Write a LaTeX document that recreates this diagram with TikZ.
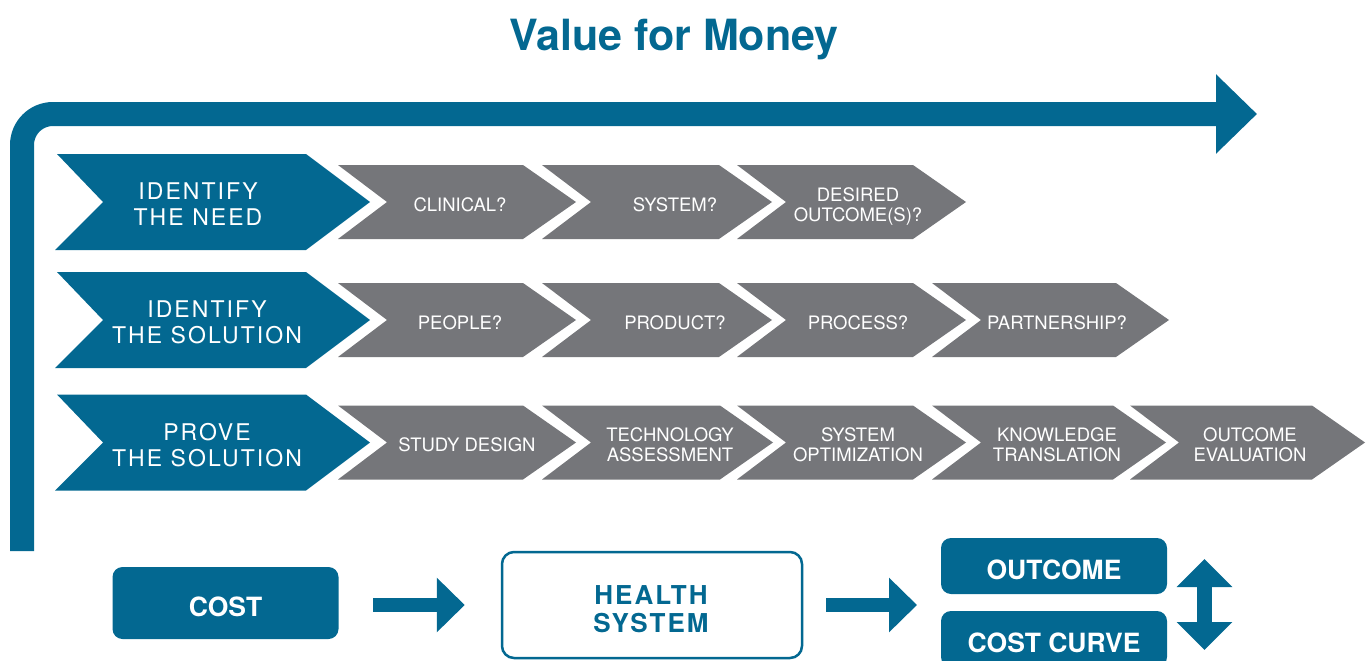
\documentclass[tikz,border=0pt]{standalone}
\usepackage{fontspec}
\setmainfont{TeX Gyre Heros}
\usetikzlibrary{arrows.meta}
\definecolor{vfmblue}{RGB}{3,104,145}
\definecolor{vfmgray}{RGB}{117,118,122}

% blue step chevron: name, middle y, label x, label
\newcommand\vfmBlueChevron[4]{%
  \fill[vfmblue] (57,#2-48) -- (306,#2-48) -- (370,#2) -- (306,#2+48) -- (55,#2+48) -- (103,#2) -- cycle;
  \node[bluelabel] (#1) at (#3,#2+2) {#4};}
% grey question chevron: name, left x, shoulder x, middle y, label x, label
\newcommand\vfmGrayChevron[6]{%
  \fill[vfmgray] (#2,#4-37) -- (#3,#4-37) -- (#3+53,#4) -- (#3,#4+37) -- (#2,#4+37) -- (#2+49,#4) -- cycle;
  \node[graylabel] (#1) at (#5,#4+2.5) {#6};}

\begin{document}
\begin{tikzpicture}[x=1pt,y=-1pt,
  bluelabel/.style={text=white,align=center,inner sep=0pt,text depth=0pt,
    font=\fontsize{23}{26}\selectfont\addfontfeature{LetterSpace=9}},
  graylabel/.style={text=white,align=center,inner sep=0pt,text depth=0pt,
    font=\fontsize{18.5}{20}\selectfont},
  bluebox/.style={fill=vfmblue,rounded corners=10pt,text=white,inner sep=0pt,
    font=\bfseries\fontsize{26.5}{30}\selectfont,minimum width=226pt,
    text height=26pt,text depth=0pt},
  blockarrow/.style={vfmblue,line width=14pt,-{Triangle[length=28pt,width=53pt]}},
]
\useasboundingbox (0,0) rectangle (1366,661);
\clip (0,0) rectangle (1366,661);

% title
\node[text=vfmblue,font=\bfseries\fontsize{43}{48}\selectfont,anchor=base] (title) at (674,51) {Value for Money};

% the framing arrow running up and across
\coordinate (loopfoot) at (22,551);
\coordinate (looptip) at (1257,114);
\draw[vfmblue,line width=24pt,rounded corners=31pt,-{Triangle[length=41pt,width=77pt]}] (loopfoot) |- (looptip);

% row 1
\vfmBlueChevron{need}{202}{198}{IDENTIFY\\THE NEED}
\vfmGrayChevron{clinical}{338}{523}{202}{460}{CLINICAL?}
\vfmGrayChevron{system}{542}{719}{202}{675}{SYSTEM?}
\vfmGrayChevron{desired}{737}{913}{202}{858}{DESIRED\\OUTCOME(S)?}

% row 2
\vfmBlueChevron{solution}{320}{207}{IDENTIFY\\THE SOLUTION}
\vfmGrayChevron{people}{338}{523}{320}{460}{PEOPLE?}
\vfmGrayChevron{product}{542}{719}{320}{675}{PRODUCT?}
\vfmGrayChevron{process}{737}{913}{320}{858}{PROCESS?}
\vfmGrayChevron{partnership}{932}{1116}{320}{1057}{PARTNERSHIP?}

% row 3
\vfmBlueChevron{prove}{442.5}{207}{PROVE\\THE SOLUTION}
\vfmGrayChevron{study}{338}{523}{442.5}{467}{STUDY DESIGN}
\vfmGrayChevron{techassess}{542}{720}{442.5}{670}{TECHNOLOGY\\ASSESSMENT}
\vfmGrayChevron{sysopt}{737}{913}{442.5}{858}{SYSTEM\\OPTIMIZATION}
\vfmGrayChevron{knowledge}{932}{1113}{442.5}{1057}{KNOWLEDGE\\TRANSLATION}
\vfmGrayChevron{evaluation}{1130}{1312}{442.5}{1250}{OUTCOME\\EVALUATION}

% bottom flow
\node[bluebox,minimum height=72pt] (cost) at (225.5,603) {COST};
\node[draw=vfmblue,line width=2.5pt,rounded corners=12pt,minimum width=300pt,
  minimum height=106pt,inner sep=0pt] (health) at (652,605) {};
\node[text=vfmblue,align=center,inner sep=0pt,
  font=\bfseries\fontsize{26}{28.5}\selectfont\addfontfeature{LetterSpace=8}] (healthtext) at (651,609) {HEALTH\\SYSTEM};
\node[bluebox,minimum height=56pt] (outcome) at (1054,566) {OUTCOME};
\node[bluebox,minimum height=56pt] (costcurve) at (1054,639) {COST CURVE};

\coordinate (a1start) at (373,605);
\draw[blockarrow] (a1start) -- ([xshift=-36pt]health.west);
\coordinate (a2end) at (917,605);
\draw[blockarrow] ([xshift=23pt]health.east) -- (a2end);

\coordinate (swingtop) at (1204.5,559);
\coordinate (swingbot) at (1204.5,650);
\draw[vfmblue,line width=15pt,{Triangle[length=28pt,width=54pt]}-{Triangle[length=28pt,width=54pt]}] (swingtop) -- (swingbot);
\end{tikzpicture}
\end{document}
